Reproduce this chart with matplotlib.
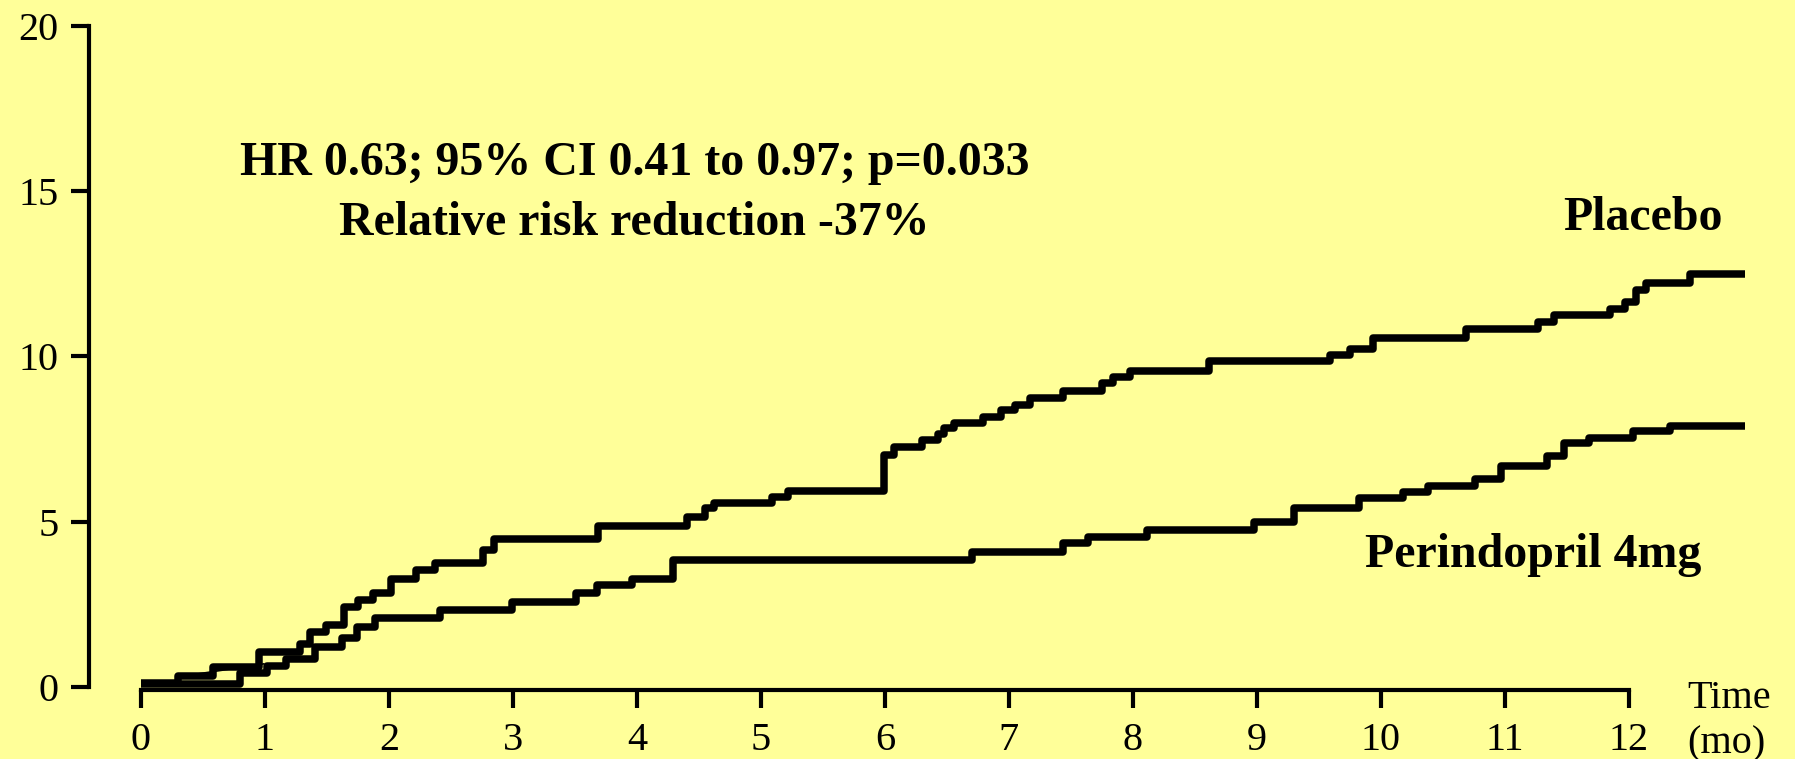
"""Cumulative event rate, perindopril 4mg against placebo, over the first year.

Two Kaplan-Meier style step curves on a pale yellow slide background, with
the hazard ratio summary written over the plot.

    python plot.py

writes out.png.
"""
import matplotlib
matplotlib.use("Agg")
import matplotlib.pyplot as plt

PAPER = "#ffff99"
INK = "black"
SERIF = ["Liberation Serif", "DejaVu Serif"]

months = list(range(13))
rate_ticks = [0, 5, 10, 15, 20]

# step times (months) and cumulative rate (%) after each step; last entry closes the curve
placebo_t = [0.00, 0.30, 0.58, 0.95, 1.28, 1.36, 1.49, 1.64, 1.75, 1.87,
             2.02, 2.22, 2.37, 2.76, 2.85, 3.69, 4.40, 4.55, 4.62, 5.09,
             5.22, 5.99, 6.07, 6.30, 6.43, 6.48, 6.56, 6.79, 6.94, 7.05,
             7.17, 7.44, 7.75, 7.84, 7.98, 8.61, 9.59, 9.75, 9.94, 10.69,
             11.27, 11.40, 11.85, 11.97, 12.06, 12.14, 12.49, 12.94]
placebo_v = [0.12, 0.34, 0.62, 1.06, 1.30, 1.67, 1.87, 2.43, 2.63, 2.83,
             3.26, 3.54, 3.76, 4.15, 4.47, 4.87, 5.15, 5.41, 5.56, 5.76,
             5.92, 7.02, 7.27, 7.47, 7.65, 7.83, 8.00, 8.16, 8.38, 8.53,
             8.73, 8.97, 9.21, 9.39, 9.57, 9.86, 10.05, 10.22, 10.55, 10.82,
             11.05, 11.26, 11.43, 11.66, 12.01, 12.21, 12.50, 12.50]

perindopril_t = [0.00, 0.80, 1.02, 1.17, 1.40, 1.62, 1.74, 1.89, 2.41, 2.99,
                 3.51, 3.68, 3.96, 4.29, 6.70, 7.44, 7.64, 8.11, 8.98, 9.30,
                 9.82, 10.18, 10.38, 10.76, 10.97, 11.34, 11.48, 11.68, 12.03,
                 12.33, 12.94]
perindopril_v = [0.10, 0.41, 0.64, 0.84, 1.22, 1.49, 1.83, 2.08, 2.33, 2.56,
                 2.83, 3.09, 3.26, 3.84, 4.09, 4.35, 4.55, 4.75, 5.00, 5.43,
                 5.71, 5.91, 6.08, 6.28, 6.69, 6.99, 7.37, 7.52, 7.75,
                 7.91, 7.91]

# thin connector drawn across the first placebo steps
placebo_thin_t = [0.36, 0.99]
placebo_thin_v = [0.34, 0.70]

stats_line = "HR 0.63; 95% CI 0.41 to 0.97; p=0.033"
rrr_line = "Relative risk reduction -37%"


def curve(ax, t, v):
    ax.step(t, v, where="post", color=INK, lw=5.4,
            solid_joinstyle="round", solid_capstyle="butt")


def main():
    plt.rcParams["font.family"] = SERIF
    fig = plt.figure(figsize=(17.95, 7.59), dpi=100, facecolor=PAPER)
    ax = fig.add_axes([89 / 1795, 69 / 759, 1706 / 1795, 670 / 759])
    ax.set_facecolor(PAPER)

    curve(ax, placebo_t, placebo_v)
    curve(ax, perindopril_t, perindopril_v)
    ax.plot(placebo_thin_t, placebo_thin_v, color=INK, lw=1.2)

    ax.set_xlim(-0.419, 13.34)
    ax.set_ylim(-0.09, 20.18)
    for side in ("top", "right"):
        ax.spines[side].set_visible(False)
    for side in ("left", "bottom"):
        ax.spines[side].set_linewidth(3)
    ax.spines["bottom"].set_bounds(months[0], months[-1])
    ax.spines["left"].set_bounds(rate_ticks[0], rate_ticks[-1])

    ax.set_xticks(months)
    ax.set_yticks(rate_ticks)
    ax.tick_params(axis="both", direction="out", length=13, width=3,
                   labelsize=29, color=INK)
    ax.tick_params(axis="x", pad=10)
    ax.tick_params(axis="y", pad=9)

    bold = dict(fontsize=34.5, fontweight="bold", color=INK, va="baseline")
    ax.text(3.98, 15.49, stats_line, ha="center", **bold)
    ax.text(3.98, 13.68, rrr_line, ha="center", **bold)
    ax.text(12.11, 13.83, "Placebo", ha="center", **bold)
    ax.text(11.23, 3.63, "Perindopril 4mg", ha="center", **bold)

    ax.text(12.47, -0.64, "Time", ha="left", va="baseline", fontsize=29,
            clip_on=False)
    ax.text(12.47, -2.0, "(mo)", ha="left", va="baseline", fontsize=29,
            clip_on=False)

    fig.savefig("out.png", dpi=100, facecolor=PAPER)


if __name__ == "__main__":
    main()
